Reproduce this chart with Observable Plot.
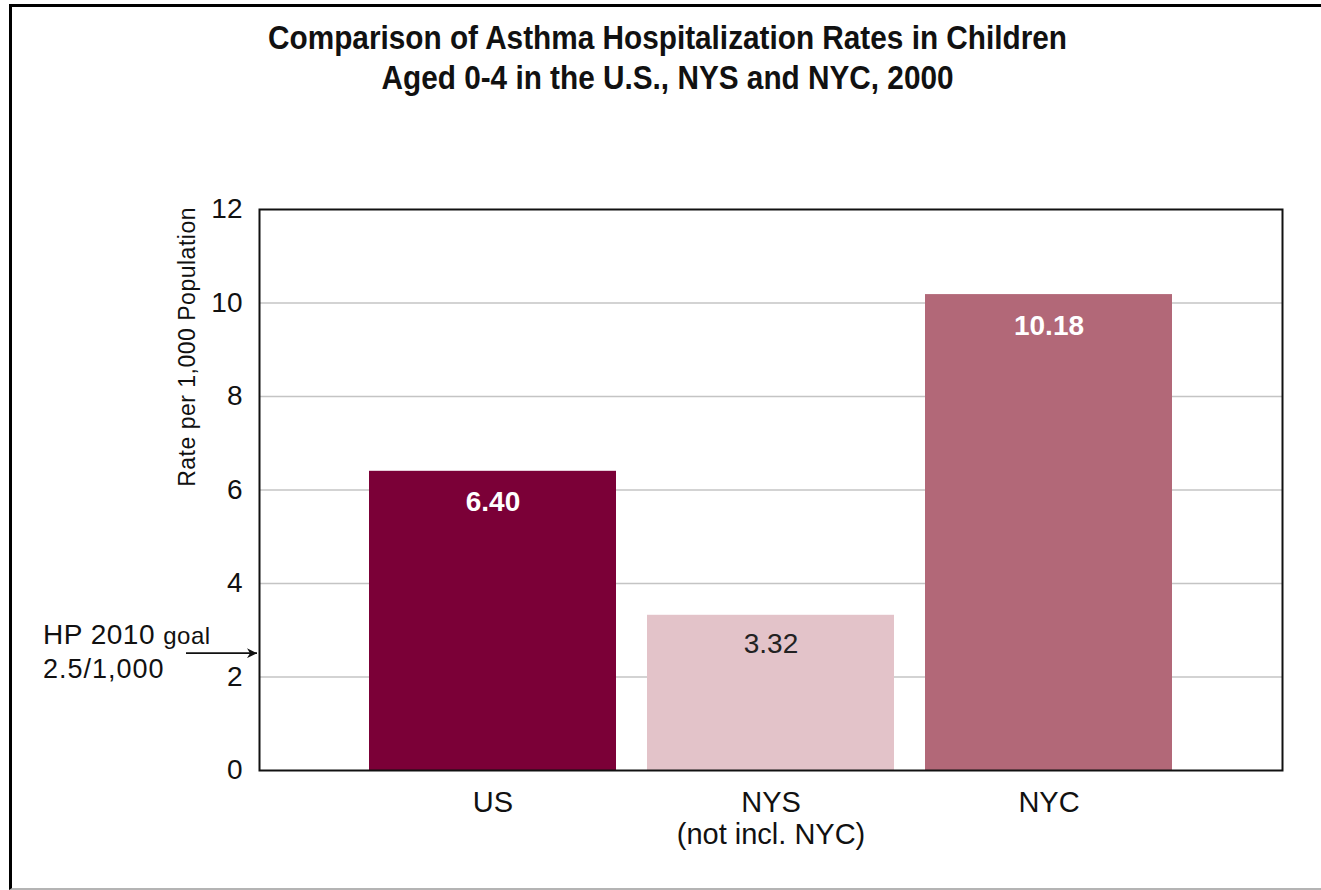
<!DOCTYPE html>
<html>
<head>
<meta charset="utf-8">
<script src="https://cdn.jsdelivr.net/npm/d3@7"></script>
<script src="https://cdn.jsdelivr.net/npm/@observablehq/plot@0.6"></script>
<style>
  html, body { margin: 0; padding: 0; background: #fff; }
  #wrap { position: relative; width: 1321px; height: 890px; overflow: hidden; }
  #border { position: absolute; left: 9px; top: 4px; width: 1330px; height: 881px;
            border-left: 3px solid #000; border-top: 3px solid #000; border-bottom: 2px solid #b4b4b4; }
  #title { position: absolute; left: 0; width: 1336px; top: 17px; text-align: center; }
  #title span { display: inline-block; transform: scaleX(0.875); transform-origin: center;
           white-space: nowrap;
           font-family: "Liberation Sans", Arial, sans-serif;
           font-weight: bold; font-size: 34px; line-height: 40px; color: #111; }
  #chart { position: absolute; left: 0; top: 0; }
</style>
</head>
<body>
<div id="wrap">
  <div id="border"></div>
  <div id="chart"></div>
  <div id="title"><span>Comparison of Asthma Hospitalization Rates in Children<br>Aged 0-4 in the U.S., NYS and NYC, 2000</span></div>
</div>
<script>
const categories = ["US", "NYS", "NYC"];
const categoryLabels = ["US", "NYS\n(not incl. NYC)", "NYC"];
const rates = [6.40, 3.32, 10.18];
const valueLabels = ["6.40", "3.32", "10.18"];
const barColors = ["#7b0037", "#e3c3c9", "#b26878"];
const labelColors = ["#ffffff", "#222222", "#ffffff"];
const labelBold = [true, false, true];
const yTicks = [0, 2, 4, 6, 8, 10, 12];
const gridTicks = [2, 4, 6, 8, 10];
const goalValue = 2.5;
const goalText = ["HP 2010", "goal", "2.5/1,000"];
const yLabel = "Rate per 1,000 Population";

const data = categories.map((c, i) => ({
  cat: c, rate: rates[i], label: valueLabels[i], color: barColors[i],
  lc: labelColors[i], bold: labelBold[i]
}));

const font = "'Liberation Sans', Arial, sans-serif";

const plot = Plot.plot({
  width: 1321,
  height: 890,
  marginLeft: 259,
  marginRight: 39,
  marginTop: 209,
  marginBottom: 120,
  style: { fontFamily: font, fontSize: "26px", color: "#111", background: "transparent" },
  x: { domain: categories, paddingInner: 0.111, paddingOuter: 0.39, label: null },
  y: { domain: [0, 12], label: null },
  marks: [
    Plot.gridY(gridTicks, { stroke: "#c4c4c4", strokeOpacity: 1, strokeWidth: 1.5 }),
    Plot.barY(data, { x: "cat", y: "rate", fill: "color" }),
    Plot.text(data.filter((d) => d.bold), { x: "cat", y: "rate", text: "label", dy: 31, fill: "lc",
                      fontWeight: "bold", fontSize: 28 }),
    Plot.text(data.filter((d) => !d.bold), { x: "cat", y: "rate", text: "label", dy: 29, fill: "lc",
                      fontWeight: "normal", fontSize: 28 }),
    Plot.frame({ stroke: "#111", strokeWidth: 2 }),
    Plot.axisY(yTicks, { tickSize: 0, tickPadding: 17, fontSize: 28, label: null }),
    Plot.axisX({ tickSize: 0, tickPadding: 19, fontSize: 29, lineHeight: 1.1, label: null,
                 fill: "#111",
                 tickFormat: (d) => categoryLabels[categories.indexOf(d)] })
  ]
});

document.getElementById("chart").appendChild(plot);

// Annotations positioned through the plot's own y scale
const svg = d3.select(plot);
const yS = plot.scale("y");
const yGoal = yS.apply(goalValue);
const x0 = 259;

const defs = svg.append("defs");
defs.append("marker").attr("id", "arrowhead").attr("viewBox", "0 0 10 10")
  .attr("refX", 10).attr("refY", 5).attr("markerWidth", 16).attr("markerHeight", 10)
  .attr("markerUnits", "userSpaceOnUse").attr("orient", "auto")
  .append("path").attr("d", "M0,0 L10,5 L0,10 L3,5 Z").attr("fill", "#111");

svg.append("line").attr("x1", x0 - 73).attr("x2", x0 - 2)
  .attr("y1", yGoal).attr("y2", yGoal)
  .attr("stroke", "#111").attr("stroke-width", 1.6)
  .attr("marker-end", "url(#arrowhead)");

const gt = svg.append("text").attr("font-family", font).attr("fill", "#111")
  .attr("text-anchor", "start");
gt.append("tspan").attr("x", 43).attr("y", yGoal - 9).attr("font-size", 28)
  .attr("letter-spacing", 0.5).text(goalText[0] + " ");
gt.append("tspan").attr("font-size", 24).attr("letter-spacing", 0.5).text(goalText[1]);
gt.append("tspan").attr("x", 43).attr("y", yGoal + 25).attr("font-size", 27)
  .attr("letter-spacing", 1).text(goalText[2]);

// Rotated y-axis label
svg.append("text")
  .attr("transform", `translate(195, ${yS.apply(9.05)}) rotate(-90)`)
  .attr("text-anchor", "middle")
  .attr("font-family", font)
  .attr("font-size", 23).attr("letter-spacing", 0.5).attr("fill", "#111")
  .text(yLabel);
</script>
</body>
</html>
